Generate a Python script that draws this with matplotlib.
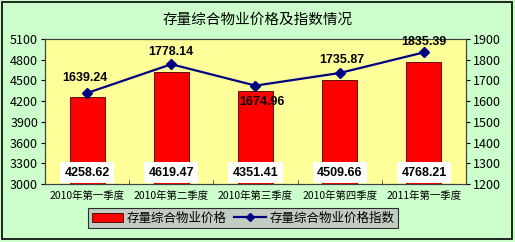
import matplotlib.pyplot as plt
from matplotlib.patches import Rectangle

plt.rcParams['font.family'] = ['Noto Sans CJK SC', 'DejaVu Sans']

# DATA
quarters = ['2010年第一季度', '2010年第二季度', '2010年第三季度', '2010年第四季度', '2011年第一季度']
price = [4258.62, 4619.47, 4351.41, 4509.66, 4768.21]
index = [1639.24, 1778.14, 1674.96, 1735.87, 1835.39]

fig = plt.figure(figsize=(5.15, 2.42), dpi=100)
fig.patch.set_facecolor('#CCFFCC')
fig.patches.append(Rectangle((0.004, 0.012), 0.99, 0.978, transform=fig.transFigure,
                             fill=False, edgecolor='black', linewidth=1.2))

ax = fig.add_axes([45/515, 1-184/242, 421/515, 145/242])
ax.set_facecolor('#FFFF99')
x = range(len(quarters))

ax.bar(x, price, width=0.415, bottom=0, color='#FF0000', edgecolor='#400000', linewidth=0.6, zorder=2)
ax.set_ylim(3000, 5100)
ax.set_xlim(-0.5, 4.5)
ax.set_yticks(range(3000, 5101, 300))
ax.set_xticks(list(x))
ax.set_xticklabels(quarters, fontsize=7.5)
ax.set_xticks([0.5, 1.5, 2.5, 3.5], minor=True)
ax.tick_params(axis='x', which='minor', direction='in', length=3, color='#404040')
ax.tick_params(axis='y', labelsize=9, length=3, pad=2)
ax.tick_params(axis='x', which='major', length=0, pad=5)

# value labels at the foot of the bars
for i, v in enumerate(price):
    ax.text(i, 3165, f'{v:.2f}', ha='center', va='center', fontsize=9, fontweight='bold',
            family='Liberation Sans', bbox=dict(facecolor='white', edgecolor='none', pad=3), zorder=5)

ax2 = ax.twinx()
ax2.plot(x, index, color='#000080', linewidth=1.6, marker='D', markersize=5, zorder=4)
ax2.set_ylim(1200, 1900)
ax2.set_yticks(range(1200, 1901, 100))
ax2.tick_params(axis='y', labelsize=9, length=3, pad=2)

offsets = [(-2, 15), (0, 12), (6, -16), (2, 13), (0, 10)]
for i, v in enumerate(index):
    dx, dy = offsets[i]
    ax2.annotate(f'{v:.2f}', (i, v), xytext=(dx, dy), textcoords='offset pixels',
                 ha='center', va='center', fontsize=9, fontweight='bold',
                 family='Liberation Sans', zorder=6)

for a in (ax, ax2):
    for s in a.spines.values():
        s.set_color('#404040')
        s.set_linewidth(0.8)

fig.text(0.5, 1-20/242, '存量综合物业价格及指数情况', ha='center', va='center', fontsize=10.5)

h1 = Rectangle((0, 0), 1, 1, facecolor='#FF0000', edgecolor='#400000', linewidth=0.6)
h2, = ax2.plot([], [], color='#000080', linewidth=1.6, marker='D', markersize=4)
leg = fig.legend([h1, h2], ['存量综合物业价格', '存量综合物业价格指数'], loc='center',
                 bbox_to_anchor=(243/515, 1-218/242), ncol=2, fontsize=9,
                 frameon=True, fancybox=False, handlelength=2.5, handletextpad=0.3,
                 columnspacing=0.6, borderpad=0.3)
leg.get_frame().set_facecolor('#C0C0C0')
leg.get_frame().set_edgecolor('black')
leg.get_frame().set_linewidth(0.8)

fig.savefig('out.png', dpi=100, facecolor=fig.get_facecolor())
